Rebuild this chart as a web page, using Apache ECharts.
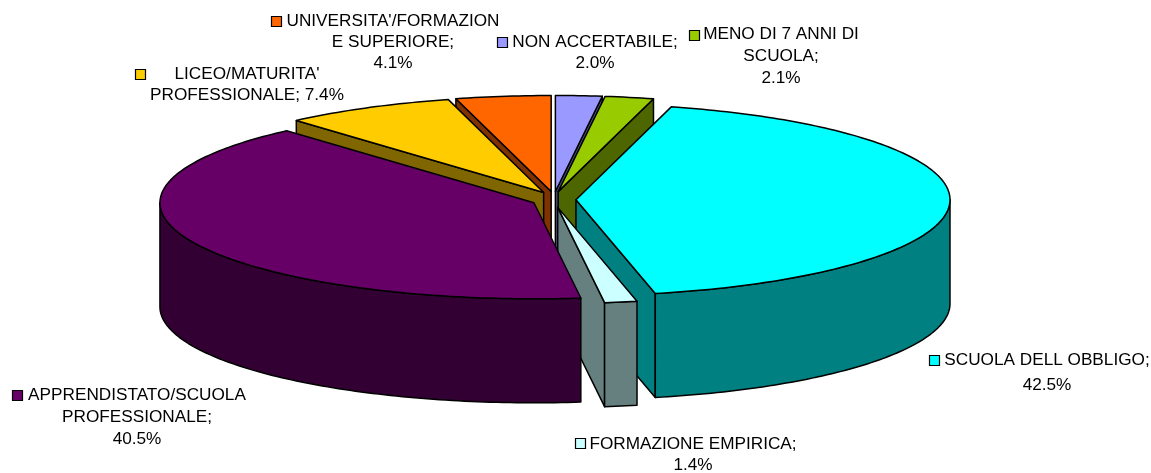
<!DOCTYPE html>
<html>
<head>
<meta charset="UTF-8">
<title>Titolo di studio</title>
<script src="https://cdn.jsdelivr.net/npm/echarts@6/dist/echarts.min.js"></script>
<style>
html, body { margin: 0; padding: 0; background: #fff; }
#chart { width: 1151px; height: 473px; }
</style>
</head>
<body>
<div id="chart"></div>
<script type="text/javascript">
// clockwise from 12 o'clock
var categories = ['NON ACCERTABILE', 'MENO DI 7 ANNI DI SCUOLA', 'SCUOLA DELL OBBLIGO', 'FORMAZIONE EMPIRICA',
	'APPRENDISTATO/SCUOLA PROFESSIONALE', "LICEO/MATURITA' PROFESSIONALE", "UNIVERSITA'/FORMAZIONE SUPERIORE"];
var values = [2.0, 2.1, 42.5, 1.4, 40.5, 7.4, 4.1];
var colors = ['#9999FF', '#99CC00', '#00FFFF', '#CCFFFF', '#660066', '#FFCC00', '#FF6600'];
var wallColors = ['#4D4D80', '#4D6600', '#008080', '#668080', '#330033', '#806600', '#803300'];
var labelLines = [
	['NON ACCERTABILE;', '{v}'],
	['MENO DI 7 ANNI DI', 'SCUOLA;', '{v}'],
	['SCUOLA DELL OBBLIGO;', '{v}'],
	['FORMAZIONE EMPIRICA;', '{v}'],
	['APPRENDISTATO/SCUOLA', 'PROFESSIONALE;', '{v}'],
	["LICEO/MATURITA'", 'PROFESSIONALE; {v}'],
	["UNIVERSITA'/FORMAZION", 'E SUPERIORE;', '{v}']
];

// layout: label centre x, first line y, line height, legend key x, y
var labelPos = [
	[595, 42, 21, 497, 37],
	[781, 34.5, 22, 689, 30],
	[1047, 360, 25, 929, 355],
	[693, 444, 21, 575, 438],
	[137, 395, 22, 12, 390],
	[247, 74, 21, 135, 69],
	[393, 21, 21, 271, 16]
];
// painter order, back to front
var drawOrder = [0, 1, 6, 5, 2, 3, 4];

var cx = 554, cy = 199.5, rx = 374, ry = 96, depth = 104;
var explodeX = 22, explodeY = 8;

var total = values.reduce(function (a, b) { return a + b; }, 0);
var starts = [];
(function () {
	var acc = 0;
	for (var i = 0; i < values.length; i++) {
		starts.push(acc / total * Math.PI * 2);
		acc += values[i];
	}
})();

function arcPoints(ax, ay, a0, a1) {
	var pts = [];
	var n = Math.max(2, Math.ceil((a1 - a0) / (Math.PI / 180)));
	for (var i = 0; i <= n; i++) {
		var a = a0 + (a1 - a0) * i / n;
		pts.push([ax + rx * Math.sin(a), ay - ry * Math.cos(a)]);
	}
	return pts;
}

function extrude(pts) {
	var res = pts.slice();
	for (var i = pts.length - 1; i >= 0; i--) {
		res.push([pts[i][0], pts[i][1] + depth]);
	}
	return res;
}

function poly(pts, fill) {
	return {
		type: 'polygon',
		shape: { points: pts },
		style: { fill: fill, stroke: '#000', lineWidth: 1.5, lineJoin: 'round' }
	};
}

function renderSlice(params, api) {
	var i = api.value(0);
	var a0 = starts[i];
	var a1 = a0 + values[i] / total * Math.PI * 2;
	var mid = (a0 + a1) / 2;
	var ax = cx + explodeX * Math.sin(mid);
	var ay = cy - explodeY * Math.cos(mid);
	var children = [];
	var arc = arcPoints(ax, ay, a0, a1);

	// cut faces that look at the viewer
	if (Math.sin(a0) < 0) {
		children.push(poly(extrude([[ax, ay], arc[0]]), wallColors[i]));
	}
	if (Math.sin(a1) > 0) {
		children.push(poly(extrude([[ax, ay], arc[arc.length - 1]]), wallColors[i]));
	}
	// outer wall, front half only
	var w0 = Math.max(a0, Math.PI / 2);
	var w1 = Math.min(a1, Math.PI * 1.5);
	if (w1 > w0) {
		children.push(poly(extrude(arcPoints(ax, ay, w0, w1)), wallColors[i]));
	}
	children.push(poly([[ax, ay]].concat(arc), colors[i]));
	return { type: 'group', children: children };
}

function renderLabel(params, api) {
	var i = api.value(0);
	var p = labelPos[i];
	var children = [{
		type: 'rect',
		shape: { x: p[3] + 0.5, y: p[4] + 0.5, width: 10, height: 10 },
		style: { fill: colors[i], stroke: '#000', lineWidth: 1.2 }
	}];
	labelLines[i].forEach(function (line, k) {
		children.push({
			type: 'text',
			style: {
				text: line.replace('{v}', values[i].toFixed(1) + '%'),
				x: p[0],
				y: p[1] + k * p[2],
				align: 'center',
				verticalAlign: 'middle',
				fill: '#000',
				font: '17.2px "Liberation Sans", Arial, sans-serif'
			}
		});
	});
	return { type: 'group', children: children };
}

var chart = echarts.init(document.getElementById('chart'), null, { renderer: 'canvas' });
chart.setOption({
	animation: false,
	backgroundColor: '#fff',
	series: [{
		type: 'custom',
		name: 'slices',
		coordinateSystem: 'none',
		silent: true,
		renderItem: renderSlice,
		data: drawOrder.map(function (i) { return [i, values[i]]; })
	}, {
		type: 'custom',
		name: 'labels',
		coordinateSystem: 'none',
		silent: true,
		renderItem: renderLabel,
		data: categories.map(function (c, i) { return { name: c, value: [i, values[i]] }; })
	}]
});
</script>
</body>
</html>
